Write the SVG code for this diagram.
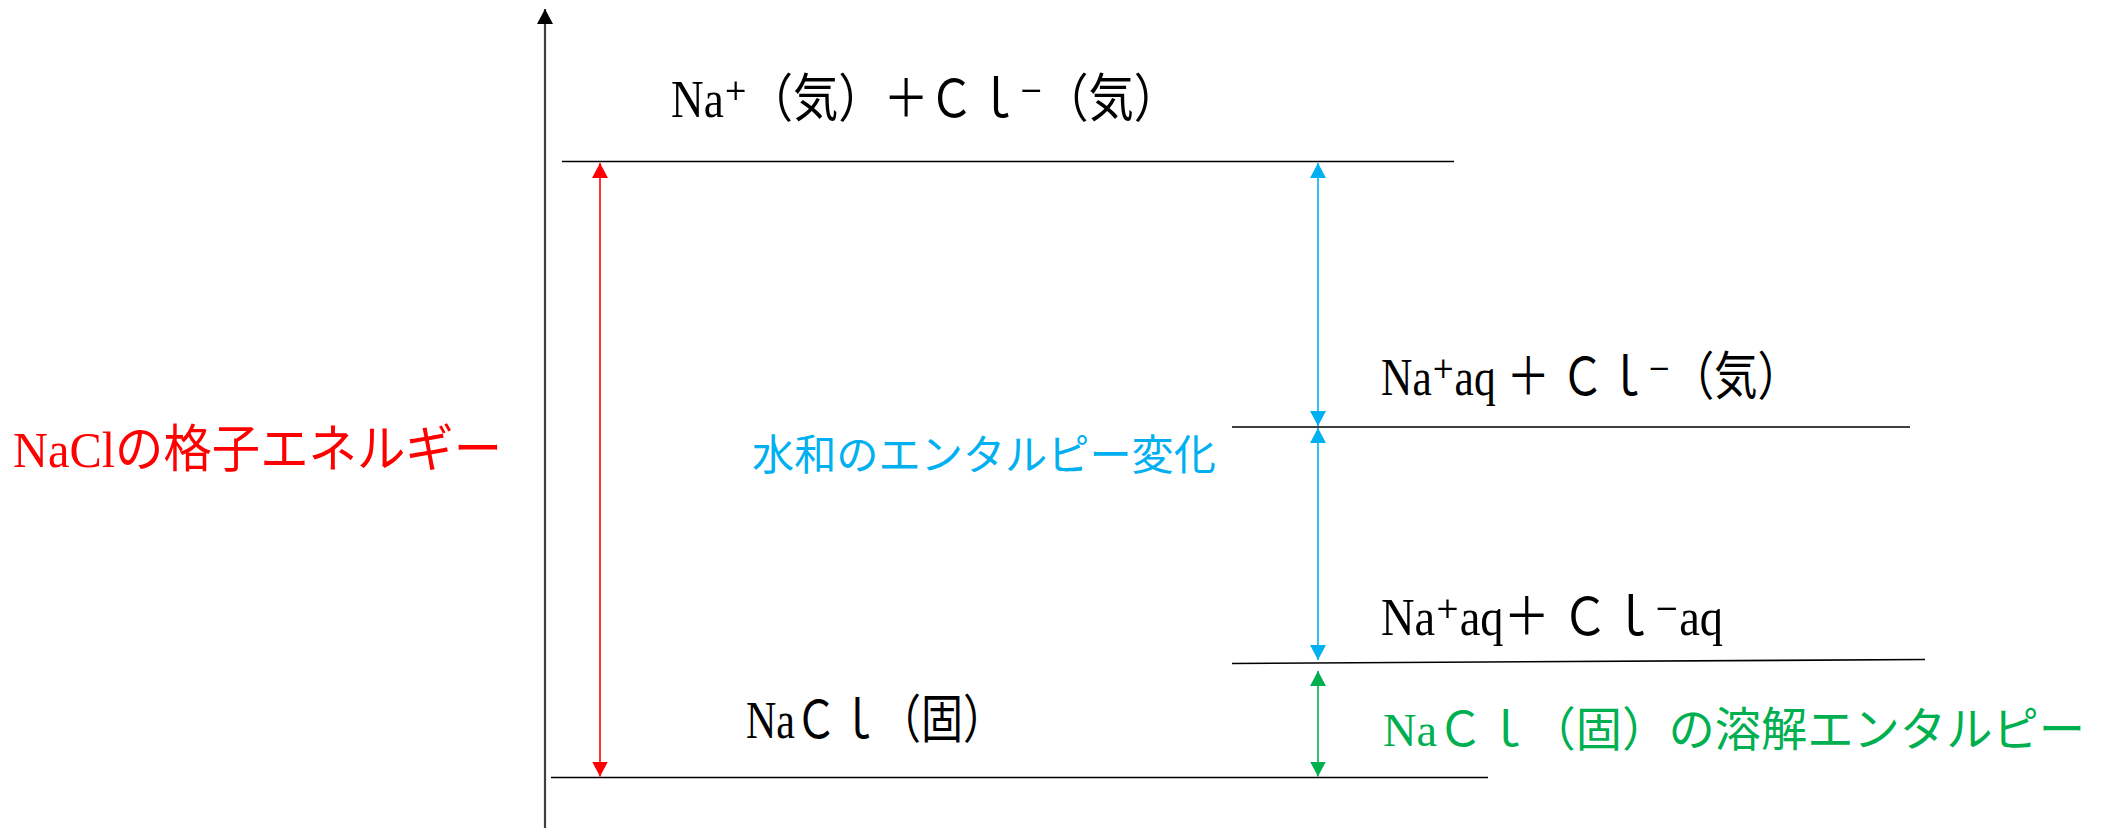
<svg xmlns="http://www.w3.org/2000/svg" width="2105" height="828" viewBox="0 0 2105 828">
<style>
.lvl{stroke:#000;stroke-width:1.6;fill:none}
.blk{font-family:"Liberation Serif","DejaVu Serif","Noto Sans CJK JP",serif;font-size:52px;fill:#000}
.grn{font-family:"Liberation Serif","DejaVu Serif","Noto Sans CJK JP",serif;font-size:47px;fill:#00B050}
.red{font-family:"Liberation Serif","Noto Sans CJK JP",serif;font-size:51px;fill:#FF0000}
.blu{font-family:"Noto Sans CJK JP",sans-serif;font-size:42px;fill:#00B0F0}
</style>
<defs>
<marker id="ak" viewBox="0 0 15 16" refX="15" refY="8" markerWidth="15" markerHeight="16" markerUnits="userSpaceOnUse" orient="auto-start-reverse"><path d="M0,0 L15,8 L0,16 z" fill="#000"/></marker>
<marker id="ar" viewBox="0 0 15 16" refX="15" refY="8" markerWidth="15" markerHeight="16" markerUnits="userSpaceOnUse" orient="auto-start-reverse"><path d="M0,0 L15,8 L0,16 z" fill="#FF0000"/></marker>
<marker id="ab" viewBox="0 0 15 16" refX="15" refY="8" markerWidth="15" markerHeight="16" markerUnits="userSpaceOnUse" orient="auto-start-reverse"><path d="M0,0 L15,8 L0,16 z" fill="#00B0F0"/></marker>
<marker id="ag" viewBox="0 0 15 16" refX="15" refY="8" markerWidth="15" markerHeight="16" markerUnits="userSpaceOnUse" orient="auto-start-reverse"><path d="M0,0 L15,8 L0,16 z" fill="#00B050"/></marker>
</defs>
<rect width="2105" height="828" fill="#fff"/>
<g id="axis">
<line x1="545" y1="828" x2="545" y2="9" stroke="#404040" stroke-width="2.2" marker-end="url(#ak)"/>
</g>
<g id="level-gas">
<line class="lvl" x1="562" y1="161.5" x2="1454" y2="161.5"/>
<text class="blk" x="671" y="117" textLength="508" lengthAdjust="spacingAndGlyphs">Na⁺（気）＋Ｃｌ⁻（気）</text>
</g>
<g id="level-hyd1">
<line class="lvl" x1="1232" y1="427" x2="1910" y2="427"/>
<text class="blk" x="1381" y="395" textLength="420" lengthAdjust="spacingAndGlyphs">Na⁺aq ＋ Ｃｌ⁻（気）</text>
</g>
<g id="level-aq">
<line class="lvl" x1="1232" y1="663.5" x2="1925" y2="659.5"/>
<text class="blk" x="1381" y="635" textLength="342" lengthAdjust="spacingAndGlyphs">Na⁺aq＋ Ｃｌ⁻aq</text>
</g>
<g id="level-solid">
<line class="lvl" x1="551" y1="777.5" x2="1488" y2="777.5"/>
<text class="blk" x="746" y="738" textLength="259" lengthAdjust="spacingAndGlyphs">NaＣｌ（固）</text>
</g>
<g id="label-lattice">
<text class="red" x="13" y="467" textLength="489" lengthAdjust="spacingAndGlyphs">NaClの格子エネルギー</text>
</g>
<g id="label-hydration">
<text class="blu" x="752" y="470" textLength="464" lengthAdjust="spacingAndGlyphs">水和のエンタルピー変化</text>
</g>
<g id="label-dissolution">
<text class="grn" x="1383" y="746" textLength="702" lengthAdjust="spacingAndGlyphs">NaＣｌ（固）の溶解エンタルピー</text>
</g>
<g id="connectors" stroke-width="1.6" fill="none">
<line x1="600" y1="163" x2="600" y2="776.5" stroke="#FF0000" marker-start="url(#ar)" marker-end="url(#ar)"/>
<line x1="1318" y1="163" x2="1318" y2="426" stroke="#00B0F0" marker-start="url(#ab)" marker-end="url(#ab)"/>
<line x1="1318" y1="428" x2="1318" y2="660" stroke="#00B0F0" marker-start="url(#ab)" marker-end="url(#ab)"/>
<line x1="1318" y1="671" x2="1318" y2="776.5" stroke="#00B050" marker-start="url(#ag)" marker-end="url(#ag)"/>
</g>
</svg>
